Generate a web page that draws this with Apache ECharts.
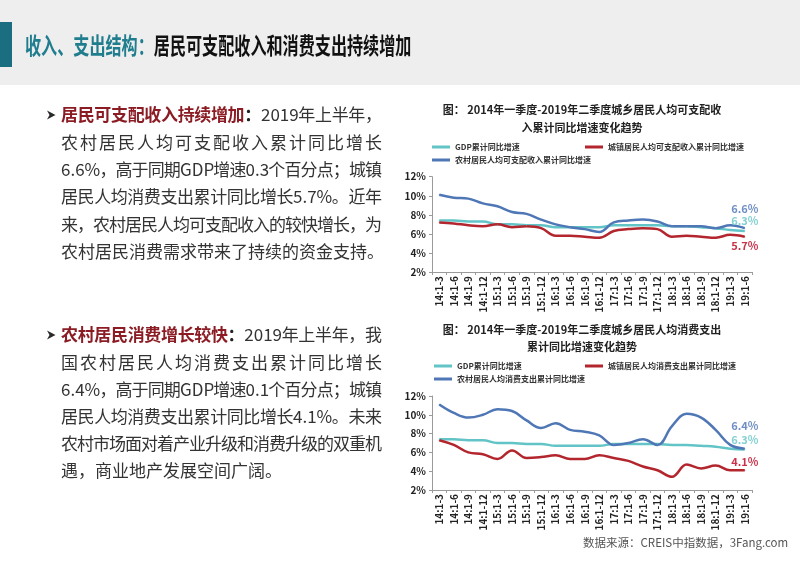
<!DOCTYPE html>
<html><head><meta charset="utf-8">
<script src="https://cdn.jsdelivr.net/npm/echarts@6/dist/echarts.min.js"></script>
<style>html,body{margin:0;padding:0;background:#fff}#c{width:800px;height:565px}</style>
</head><body><div id="c"></div><script>
// ---- data ----
const categories = ['14:1-3','14:1-6','14:1-9','14:1-12','15:1-3','15:1-6','15:1-9','15:1-12','16:1-3','16:1-6','16:1-9','16:1-12','17:1-3','17:1-6','17:1-9','17:1-12','18:1-3','18:1-6','18:1-9','18:1-12','19:1-3','19:1-6'];
const yTicks = [2,4,6,8,10,12];
const gdp = [7.4,7.4,7.3,7.3,7.0,7.0,6.9,6.9,6.7,6.7,6.7,6.7,6.9,6.9,6.9,6.9,6.8,6.8,6.7,6.6,6.4,6.3];
const urbanIncome = [7.2,7.1,6.9,6.8,7.0,6.7,6.8,6.6,5.8,5.8,5.7,5.6,6.3,6.5,6.6,6.5,5.7,5.8,5.7,5.6,5.9,5.7];
const ruralIncome = [10.1,9.8,9.7,9.2,8.9,8.3,8.1,7.5,7.0,6.7,6.5,6.2,7.2,7.4,7.5,7.3,6.8,6.8,6.8,6.6,6.9,6.6];
const urbanConsume = [7.3,6.8,6.0,5.8,5.3,6.2,5.4,5.5,5.7,5.3,5.3,5.7,5.4,5.1,4.5,4.1,3.4,4.7,4.3,4.6,4.1,4.1];
const ruralConsume = [11.1,10.2,9.7,10.0,10.6,10.4,9.4,8.6,9.1,8.4,8.2,7.8,6.8,7.0,7.4,6.8,8.8,10.1,9.7,8.4,6.8,6.4];
const names = {
  gdp:'GDP累计同比增速',
  ui:'城镇居民人均可支配收入累计同比增速',
  ri:'农村居民人均可支配收入累计同比增速',
  uc:'城镇居民人均消费支出累计同比增速',
  rc:'农村居民人均消费支出累计同比增速'
};

const FONT = '"Noto Sans CJK SC","Microsoft YaHei",sans-serif';
const C_GDP = '#62c4c6', C_URB = '#b3262e', C_RUR = '#4f77b6';
const chart = echarts.init(document.getElementById('c'));
const ctx = document.createElement('canvas').getContext('2d');

const STY = {
  h: {fontSize:17, fontWeight:'bold', fill:'#8b1c24'},
  hc:{fontSize:17, fontWeight:'bold', fill:'#222'},
  n: {fontSize:17, fontWeight:'normal', fill:'#333'}
};
function isAscii(ch){return ch.charCodeAt(0) < 128;}
function layoutLine(segs, x0, y, W, justify, out){
  const chars = [];
  segs.forEach(([k,t]) => { for (const ch of t) chars.push({ch, st:STY[k]}); });
  chars.forEach(c => { ctx.font = c.st.fontWeight+' '+c.st.fontSize+'px '+FONT; c.w = ctx.measureText(c.ch).width; });
  const total = chars.reduce((a,c)=>a+c.w,0);
  let nGaps = 0;
  for (let i=0;i<chars.length-1;i++) if (!isAscii(chars[i].ch) || !isAscii(chars[i+1].ch)) nGaps++;
  const gap = (justify && nGaps) ? (W-total)/nGaps : 0;
  let x = x0;
  chars.forEach((c,i) => {
    out.push({type:'text', x, y, silent:true, style:{text:c.ch, fill:c.st.fill, fontSize:c.st.fontSize, fontWeight:c.st.fontWeight, fontFamily:FONT, verticalAlign:'middle', align:'left'}});
    x += c.w;
    if (i < chars.length-1 && (!isAscii(c.ch) || !isAscii(chars[i+1].ch))) x += gap;
  });
}

const para1 = [
  [['h','居民可支配收入持续增加'],['hc','：'],['n','2019年上半年，']],
  [['n','农村居民人均可支配收入累计同比增长']],
  [['n','6.6%，高于同期GDP增速0.3个百分点；城镇']],
  [['n','居民人均消费支出累计同比增长5.7%。近年']],
  [['n','来，农村居民人均可支配收入的较快增长，为']],
  [['n','农村居民消费需求带来了持续的资金支持。']]
];
const para2 = [
  [['h','农村居民消费增长较快'],['hc','：'],['n','2019年上半年，我']],
  [['n','国农村居民人均消费支出累计同比增长']],
  [['n','6.4%，高于同期GDP增速0.1个百分点；城镇']],
  [['n','居民人均消费支出累计同比增长4.1%。未来']],
  [['n','农村市场面对着产业升级和消费升级的双重机']],
  [['n','遇，商业地产发展空间广阔。']]
];

const graphics = [];
// header
graphics.push({type:'rect', shape:{x:0,y:0,width:800,height:85}, style:{fill:'#eeeeee'}, silent:true});
graphics.push({type:'rect', shape:{x:0,y:22,width:12,height:45}, style:{fill:'#1b6e80'}, silent:true});
const titleScale = 0.7;
ctx.font = 'bold 23px '+FONT;
const tealPart = '收入、支出结构：';
const tealW = ctx.measureText(tealPart).width * titleScale;
graphics.push({type:'text', x:25, y:45, scaleX:titleScale, silent:true, style:{text:tealPart, fill:'#1f7d8e', fontSize:23, fontWeight:'bold', fontFamily:FONT, verticalAlign:'middle'}});
graphics.push({type:'text', x:25+tealW, y:45, scaleX:titleScale, silent:true, style:{text:'居民可支配收入和消费支出持续增加', fill:'#111', fontSize:23, fontWeight:'bold', fontFamily:FONT, verticalAlign:'middle'}});

// paragraphs
function addPara(lines, y0, dy){
  graphics.push({type:'polygon', silent:true, shape:{points:[[47,y0-4.5],[55.5,y0],[47,y0+4.5],[49.5,y0]]}, style:{fill:'#2a2a2a'}});
  lines.forEach((l,i) => layoutLine(l, 61, y0+i*dy, 321, i < lines.length-1, graphics));
}
addPara(para1, 115, 27.3);
addPara(para2, 335, 27.2);

// chart titles
function ctitle(t, y){
  graphics.push({type:'text', x:582, y, silent:true, style:{text:t, fill:'#222', fontSize:11, fontWeight:'bold', fontFamily:FONT, align:'center', verticalAlign:'middle'}});
}
ctitle('图： 2014年一季度-2019年二季度城乡居民人均可支配收', 110);
ctitle('入累计同比增速变化趋势', 128);
ctitle('图： 2014年一季度-2019年二季度城乡居民人均消费支出', 330);
ctitle('累计同比增速变化趋势', 347);
graphics.push({type:'text', x:583, y:543, silent:true, style:{text:'数据来源：CREIS中指数据，3Fang.com', fill:'#555', fontSize:11.5, fontFamily:FONT, verticalAlign:'middle'}});

function legend(name, left, top){
  return {data:[name], left, top, padding:0, icon:'rect', itemWidth:18, itemHeight:3, selectedMode:false,
    textStyle:{fontSize:8, fontWeight:'bold', color:'#333', fontFamily:FONT}};
}
function xAx(gi){
  return {type:'category', gridIndex:gi, data:categories, boundaryGap:true,
    axisLine:{lineStyle:{color:'#9a9a9a'}}, axisTick:{show:true, length:3, lineStyle:{color:'#9a9a9a'}},
    axisLabel:{rotate:90, interval:0, margin:4, fontSize:10, fontWeight:'bold', color:'#222', fontFamily:FONT}};
}
function yAx(gi){
  return {type:'value', gridIndex:gi, min:yTicks[0], max:yTicks[yTicks.length-1], interval:2,
    axisLine:{show:true, lineStyle:{color:'#9a9a9a'}}, axisTick:{show:true, length:3, lineStyle:{color:'#9a9a9a'}},
    splitLine:{show:false},
    axisLabel:{formatter:'{value}%', fontSize:10, fontWeight:'bold', color:'#222', margin:6, fontFamily:FONT}};
}
function line(name, data, gi, color, labelColor, pos, off){
  const last = data.length-1;
  return {type:'line', name, data, xAxisIndex:gi, yAxisIndex:gi, smooth:0.4,
    symbol:'circle', symbolSize:1, showSymbol:true, color, lineStyle:{width:2.5, color},
    emphasis:{disabled:true}, silent:true, z: 2,
    label:{show:true, position:pos, offset:off, distance:5, color:labelColor, fontSize:11, fontWeight:'bold', fontFamily:FONT,
      formatter:p => p.dataIndex === last ? p.value.toFixed(1)+'%' : ''}};
}

chart.setOption({
  animation:false,
  backgroundColor:'#ffffff',
  graphic:graphics,
  legend:[
    legend(names.gdp, 432, 143), legend(names.ui, 585, 143), legend(names.ri, 432, 156),
    legend(names.gdp, 434, 362), legend(names.uc, 585, 362), legend(names.rc, 434, 375)
  ],
  grid:[
    {left:432, top:176.7, width:320, height:95.3},
    {left:432, top:396, width:320, height:94}
  ],
  xAxis:[xAx(0), xAx(1)],
  yAxis:[yAx(0), yAx(1)],
  series:[
    line(names.gdp, gdp, 0, C_GDP, '#84d0d2', 'top', [0,1]),
    line(names.ui, urbanIncome, 0, C_URB, '#c8334a', 'bottom', [0,-2]),
    line(names.ri, ruralIncome, 0, C_RUR, '#6f8fc4', 'top', [0,-8]),
    line(names.gdp, gdp, 1, C_GDP, '#84d0d2', 'top', [0,1]),
    line(names.uc, urbanConsume, 1, C_URB, '#c8334a', 'top', [0,3]),
    line(names.rc, ruralConsume, 1, C_RUR, '#6f8fc4', 'top', [0,-12])
  ]
});
</script></body></html>
